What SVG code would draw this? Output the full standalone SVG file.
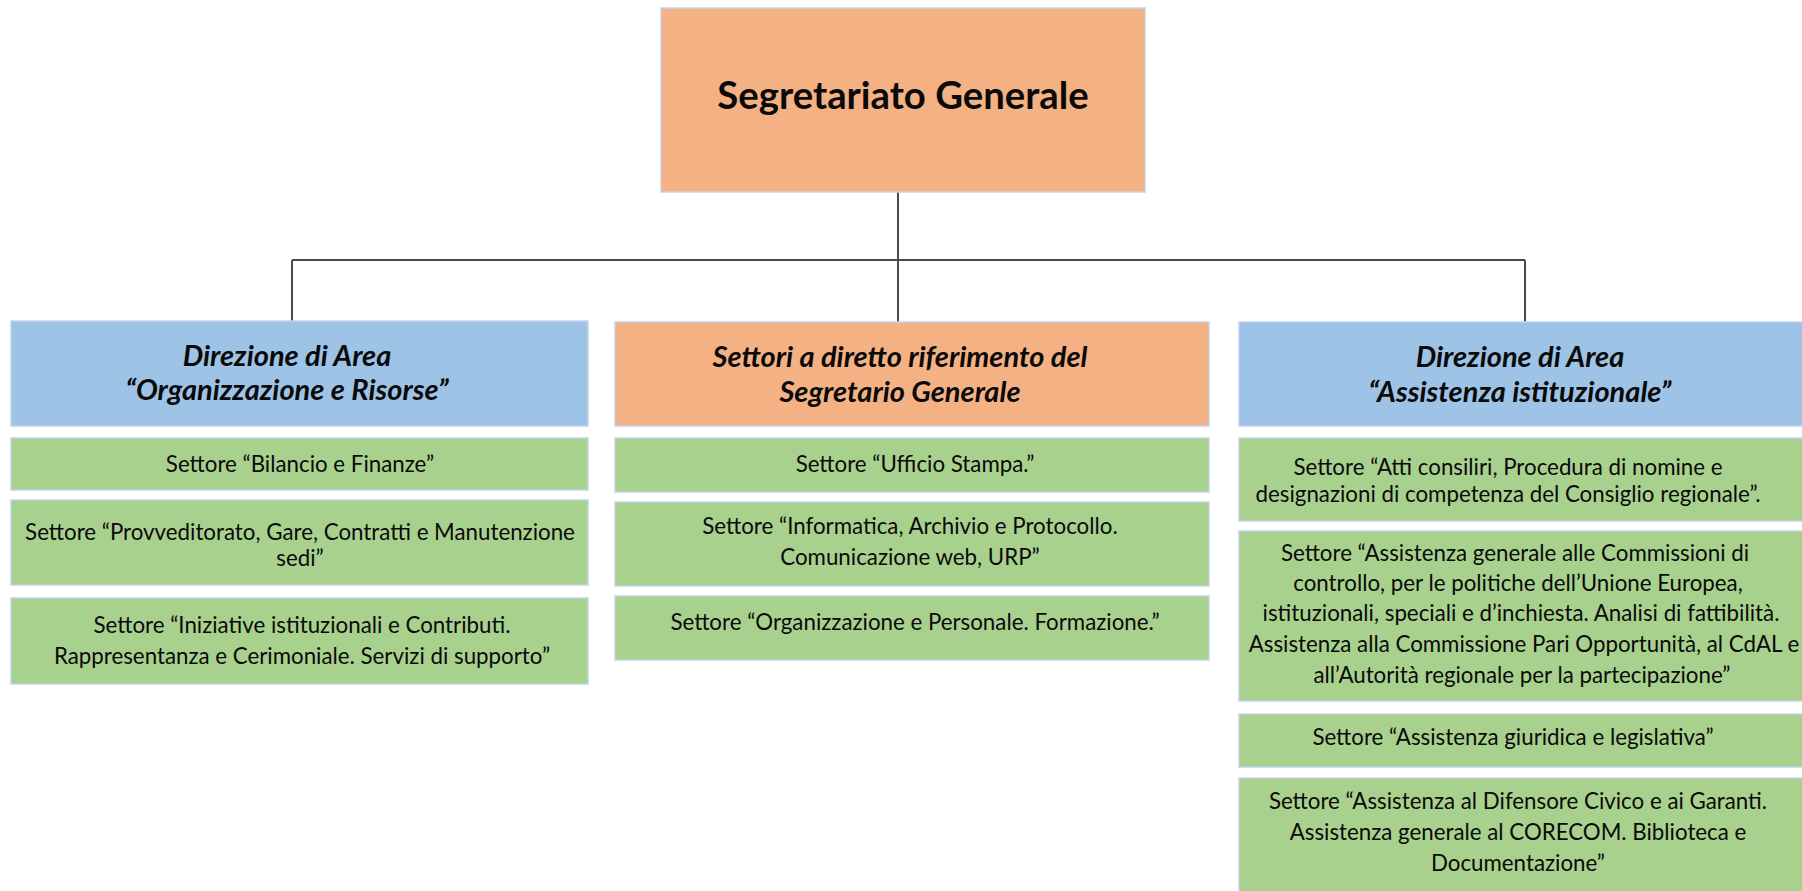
<svg xmlns="http://www.w3.org/2000/svg" width="1802" height="891" viewBox="0 0 1802 891">
<style>
.box{stroke:#C3D3EA;stroke-width:1.5}
.org{fill:#F4B183}
.blu{fill:#9DC3E6}
.grn{fill:#A9D18E}
text{font-family:Lato,"Liberation Sans",sans-serif;fill:#0a0a0a;text-anchor:middle}
.title{font-size:38.3px;font-weight:bold}
.hdr{font-size:29px;font-weight:bold;font-style:italic}
.t{font-size:22.3px}
.con{stroke:#4a4a4a;stroke-width:2;fill:none}
</style>
<rect width="1802" height="891" fill="#ffffff"/>
<g id="connectors">
<line class="con" x1="898" y1="192" x2="898" y2="322"/>
<line class="con" x1="292" y1="260" x2="1525" y2="260"/>
<line class="con" x1="292" y1="260" x2="292" y2="321"/>
<line class="con" x1="1525" y1="260" x2="1525" y2="322"/>
</g>
<g id="segretariato">
<rect class="box org" x="661" y="8" width="484" height="184"/>
<text class="title" x="903" y="109">Segretariato Generale</text>
</g>
<g id="dir-org-risorse">
<rect class="box blu" x="11" y="321" width="577" height="105"/>
<text class="hdr" x="287" y="366">Direzione di Area</text>
<text class="hdr" x="287" y="400">“Organizzazione e Risorse”</text>
</g>
<g id="settori-segretario">
<rect class="box org" x="615" y="322" width="594" height="104"/>
<text class="hdr" x="900" y="367">Settori a diretto riferimento del</text>
<text class="hdr" x="900" y="402">Segretario Generale</text>
</g>
<g id="dir-assistenza">
<rect class="box blu" x="1239" y="322" width="570" height="104"/>
<text class="hdr" x="1520" y="367">Direzione di Area</text>
<text class="hdr" x="1520" y="402">“Assistenza istituzionale”</text>
</g>
<g id="bilancio">
<rect class="box grn" x="11" y="438" width="577" height="52"/>
<text class="t" x="300" y="472">Settore “Bilancio e Finanze”</text>
</g>
<g id="provveditorato">
<rect class="box grn" x="11" y="500" width="577" height="85"/>
<text class="t" x="300" y="540">Settore “Provveditorato, Gare, Contratti e Manutenzione</text>
<text class="t" x="300" y="566">sedi”</text>
</g>
<g id="iniziative">
<rect class="box grn" x="11" y="598" width="577" height="86"/>
<text class="t" x="302" y="633">Settore “Iniziative istituzionali e Contributi.</text>
<text class="t" x="302" y="664">Rappresentanza e Cerimoniale. Servizi di supporto”</text>
</g>
<g id="ufficio-stampa">
<rect class="box grn" x="615" y="438" width="594" height="54"/>
<text class="t" x="915" y="472">Settore “Ufficio Stampa.”</text>
</g>
<g id="informatica">
<rect class="box grn" x="615" y="502" width="594" height="84"/>
<text class="t" x="910" y="534">Settore “Informatica, Archivio e Protocollo.</text>
<text class="t" x="910" y="565">Comunicazione web, URP”</text>
</g>
<g id="organizzazione-personale">
<rect class="box grn" x="615" y="596" width="594" height="64"/>
<text class="t" x="915" y="630">Settore “Organizzazione e Personale. Formazione.”</text>
</g>
<g id="atti-consiliari">
<rect class="box grn" x="1239" y="438" width="570" height="83"/>
<text class="t" x="1508" y="475">Settore “Atti consiliri, Procedura di nomine e</text>
<text class="t" x="1508" y="502">designazioni di competenza del Consiglio regionale”.</text>
</g>
<g id="assistenza-commissioni">
<rect class="box grn" x="1239" y="531" width="570" height="170"/>
<text class="t" x="1515" y="561">Settore “Assistenza generale alle Commissioni di</text>
<text class="t" x="1518" y="591">controllo, per le politiche dell’Unione Europea,</text>
<text class="t" x="1521" y="621">istituzionali, speciali e d’inchiesta. Analisi di fattibilità.</text>
<text class="t" x="1524" y="652">Assistenza alla Commissione Pari Opportunità, al CdAL e</text>
<text class="t" x="1522" y="683">all’Autorità regionale per la partecipazione”</text>
</g>
<g id="assistenza-giuridica">
<rect class="box grn" x="1239" y="714" width="570" height="53"/>
<text class="t" x="1513" y="745">Settore “Assistenza giuridica e legislativa”</text>
</g>
<g id="difensore-civico">
<rect class="box grn" x="1239" y="778" width="570" height="120"/>
<text class="t" x="1518" y="809">Settore “Assistenza al Difensore Civico e ai Garanti.</text>
<text class="t" x="1518" y="840">Assistenza generale al CORECOM. Biblioteca e</text>
<text class="t" x="1518" y="871">Documentazione”</text>
</g>
</svg>
